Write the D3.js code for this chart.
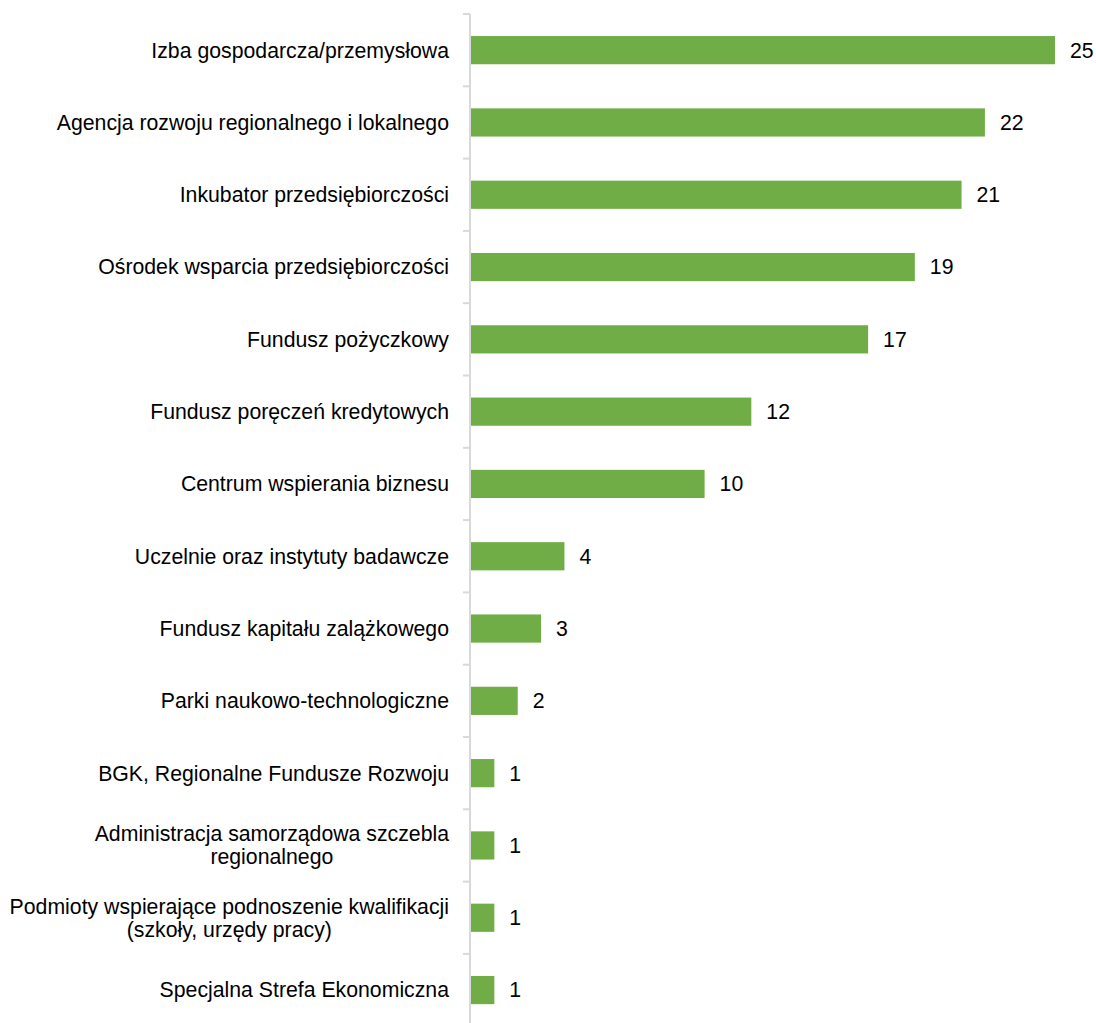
<!DOCTYPE html>
<html>
<head>
<meta charset="utf-8">
<script src="https://cdn.jsdelivr.net/npm/d3@7"></script>
<style>
  body { margin: 0; background: #fff; }
</style>
</head>
<body>
<div id="chart"></div>
<script>
// Data
let categories = [
  "Izba gospodarcza/przemysłowa",
  "Agencja rozwoju regionalnego i lokalnego",
  "Inkubator przedsiębiorczości",
  "Ośrodek wsparcia przedsiębiorczości",
  "Fundusz pożyczkowy",
  "Fundusz poręczeń kredytowych",
  "Centrum wspierania biznesu",
  "Uczelnie oraz instytuty badawcze",
  "Fundusz kapitału zalążkowego",
  "Parki naukowo-technologiczne",
  "BGK, Regionalne Fundusze Rozwoju",
  "Administracja samorządowa szczebla|regionalnego",
  "Podmioty wspierające podnoszenie kwalifikacji|(szkoły, urzędy pracy)",
  "Specjalna Strefa Ekonomiczna"
];
let values = [25, 22, 21, 19, 17, 12, 10, 4, 3, 2, 1, 1, 1, 1];

// Size
let w = 1096;
let h = 1023;
let axisX = 470;
let topY = 14;
let bandStep = 72.3;
let fontSize = "21.25px";

let data = categories.map((c, i) => ({ cat: c, value: values[i] }));

let yScale = d3
  .scaleBand()
  .domain(categories)
  .range([topY, topY + bandStep * categories.length])
  .paddingInner(0.61)
  .paddingOuter(0.305);

let xScale = d3
  .scaleLinear()
  .domain([0, 25])
  .range([axisX + 1, 1055]);

let svg = d3
  .select("#chart")
  .append("svg")
  .attr("width", w)
  .attr("height", h);

// Bars
svg
  .selectAll("rect")
  .data(data)
  .enter()
  .append("rect")
  .attr("x", xScale(0))
  .attr("y", (d) => yScale(d.cat))
  .attr("width", (d) => xScale(d.value) - xScale(0))
  .attr("height", yScale.bandwidth())
  .attr("fill", "#70ad47");

// Value labels
svg
  .selectAll("text.val")
  .data(data)
  .enter()
  .append("text")
  .attr("class", "val")
  .text((d) => d.value)
  .attr("x", (d) => xScale(d.value) + 15)
  .attr("y", (d) => yScale(d.cat) + yScale.bandwidth() / 2)
  .attr("dy", "0.35em")
  .attr("font-family", "Liberation Sans, Arial, sans-serif")
  .attr("font-size", fontSize)
  .attr("fill", "#000");

// Category axis: line + ticks between categories
let g = svg.append("g");
g.append("line")
  .attr("x1", axisX)
  .attr("x2", axisX)
  .attr("y1", topY)
  .attr("y2", h)
  .attr("stroke", "#d9d9d9")
  .attr("stroke-width", 2);

let tickYs = d3.range(categories.length + 1).map((i) => topY + i * yScale.step());
g.selectAll("line.tick")
  .data(tickYs)
  .enter()
  .append("line")
  .attr("class", "tick")
  .attr("x1", axisX - 7)
  .attr("x2", axisX)
  .attr("y1", (d) => d)
  .attr("y2", (d) => d)
  .attr("stroke", "#d9d9d9")
  .attr("stroke-width", 2);

// Category labels (multi-line ones are centred on the widest line)
let labelRight = 449;
let lh = 23;
svg
  .selectAll("text.cat")
  .data(data)
  .enter()
  .append("text")
  .attr("class", "cat")
  .attr("font-family", "Liberation Sans, Arial, sans-serif")
  .attr("font-size", fontSize)
  .attr("fill", "#000")
  .each(function (d) {
    let lines = d.cat.split("|");
    let cy = yScale(d.cat) + yScale.bandwidth() / 2;
    let t = d3.select(this);
    let spans = lines.map((line, i) =>
      t.append("tspan")
        .attr("y", cy + (i - (lines.length - 1) / 2) * lh)
        .attr("dy", "0.35em")
        .text(line)
    );
    if (lines.length > 1) {
      let maxW = d3.max(spans, (s) => s.node().getComputedTextLength());
      spans.forEach((s) => s.attr("x", labelRight - maxW / 2).attr("text-anchor", "middle"));
    } else {
      t.attr("text-anchor", "end");
      spans[0].attr("x", labelRight);
    }
  });
</script>
</body>
</html>
